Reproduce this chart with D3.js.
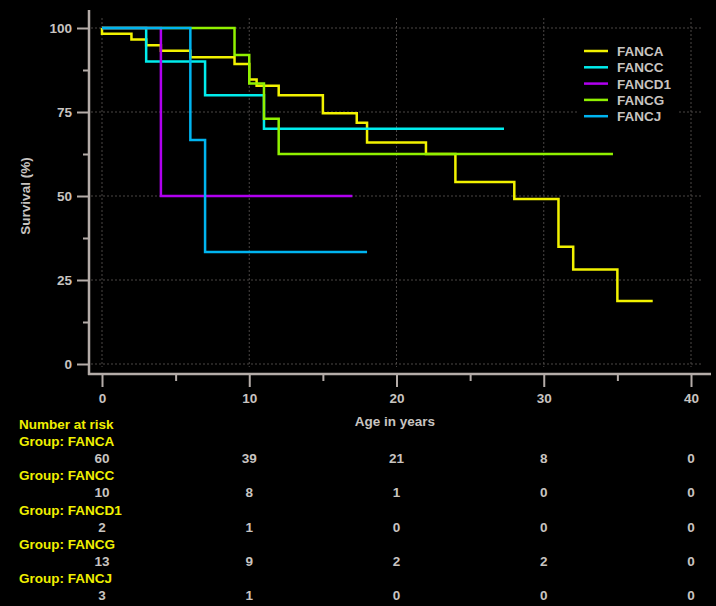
<!DOCTYPE html>
<html><head><meta charset="utf-8">
<script src="https://cdn.jsdelivr.net/npm/d3@7"></script>
<style>
html,body{margin:0;padding:0;background:#000;}
svg{display:block;}
text{font-family:"Liberation Sans",Arial,sans-serif;font-weight:bold;font-size:13.5px;}
</style></head>
<body>
<svg id="chart" width="716" height="606"></svg>
<script>
const groups = ["FANCA", "FANCC", "FANCD1", "FANCG", "FANCJ"];
const colors = ["#f2f200", "#00ecec", "#b000f0", "#90f000", "#00b4f0"];

const fancaTimes = [0, 0, 2, 3, 4, 6, 9, 10, 10.5, 12, 15, 17.3, 18, 22, 24, 28, 31, 32, 35, 37.4];
const fancaSurv  = [100, 98.3, 96.6, 94.9, 93.2, 91.3, 89.3, 84.7, 82.8, 80, 74.6, 71.8, 65.9, 62.5, 54.2, 49.1, 34.9, 28.1, 18.75, 18.75];
const fanccTimes = [0, 3, 7, 11, 27.3];
const fanccSurv  = [100, 90, 80, 70, 70];
const fancd1Times = [0, 4, 17];
const fancd1Surv  = [100, 50, 50];
const fancgTimes = [0, 9, 10, 11, 12, 34.7];
const fancgSurv  = [100, 92, 83.5, 73, 62.5, 62.5];
const fancjTimes = [0, 6, 7, 18];
const fancjSurv  = [100, 66.7, 33.3, 33.3];

const xTicks = [0, 10, 20, 30, 40];
const xMinor = [5, 15, 25, 35];
const yTicks = [0, 25, 50, 75, 100];
const yMinor = [12.5, 37.5, 62.5, 87.5];

const riskTimes = [0, 10, 20, 30, 40];
const riskFANCA  = [60, 39, 21, 8, 0];
const riskFANCC  = [10, 8, 1, 0, 0];
const riskFANCD1 = [2, 1, 0, 0, 0];
const riskFANCG  = [13, 9, 2, 2, 0];
const riskFANCJ  = [3, 1, 0, 0, 0];

const series = [
  {name: groups[0], t: fancaTimes, s: fancaSurv, risk: riskFANCA},
  {name: groups[1], t: fanccTimes, s: fanccSurv, risk: riskFANCC},
  {name: groups[2], t: fancd1Times, s: fancd1Surv, risk: riskFANCD1},
  {name: groups[3], t: fancgTimes, s: fancgSurv, risk: riskFANCG},
  {name: groups[4], t: fancjTimes, s: fancjSurv, risk: riskFANCJ}
];

const svg = d3.select("#chart");
const textCol = "#c8c4c0";
const axisCol = "#b4aca8";
const gridCol = "#4a4644";
const labelYellow = "#f0f000";

const x = d3.scaleLinear().domain([0, 40]).range([102, 691]);
const y = d3.scaleLinear().domain([0, 100]).range([364, 28]);

svg.append("rect").attr("width", 716).attr("height", 606).attr("fill", "#000");

// grid
const g = svg.append("g");
g.selectAll(".vg").data(xTicks).join("line")
  .attr("x1", d => x(d)).attr("x2", d => x(d))
  .attr("y1", 18).attr("y2", 367)
  .attr("stroke", gridCol).attr("stroke-width", 1).attr("stroke-dasharray", "2,2");
g.selectAll(".hg").data(yTicks).join("line")
  .attr("x1", 91).attr("x2", 702)
  .attr("y1", d => y(d)).attr("y2", d => y(d))
  .attr("stroke", gridCol).attr("stroke-width", 1).attr("stroke-dasharray", "2,2");

// axes
const axisG = svg.append("g");
axisG.append("line").attr("x1", 89).attr("x2", 89).attr("y1", 10).attr("y2", 375)
  .attr("stroke", axisCol).attr("stroke-width", 2.5);
axisG.append("line").attr("x1", 88).attr("x2", 711).attr("y1", 374).attr("y2", 374)
  .attr("stroke", axisCol).attr("stroke-width", 2.5);

const yAxis = d3.axisLeft(y).tickValues(yTicks).tickSize(12).tickPadding(5);
const ya = svg.append("g").attr("transform", "translate(89,0)").call(yAxis);
ya.select(".domain").remove();
ya.selectAll(".tick line").attr("stroke", axisCol).attr("stroke-width", 2);
ya.selectAll(".tick text").attr("fill", textCol).style("font-size", "13.5px").style("font-family", "'Liberation Sans',Arial,sans-serif").style("font-weight", "bold");

const yAxisMinor = d3.axisLeft(y).tickValues(yMinor).tickSize(6).tickFormat("");
const yam = svg.append("g").attr("transform", "translate(89,0)").call(yAxisMinor);
yam.select(".domain").remove();
yam.selectAll(".tick line").attr("stroke", axisCol).attr("stroke-width", 2);

const xAxis = d3.axisBottom(x).tickValues(xTicks).tickSize(13).tickPadding(6);
const xa = svg.append("g").attr("transform", "translate(0,374)").call(xAxis);
xa.select(".domain").remove();
xa.selectAll(".tick line").attr("stroke", axisCol).attr("stroke-width", 2);
xa.selectAll(".tick text").attr("fill", textCol).style("font-size", "13.5px").style("font-family", "'Liberation Sans',Arial,sans-serif").style("font-weight", "bold");

const xAxisMinor = d3.axisBottom(x).tickValues(xMinor).tickSize(7).tickFormat("");
const xam = svg.append("g").attr("transform", "translate(0,374)").call(xAxisMinor);
xam.select(".domain").remove();
xam.selectAll(".tick line").attr("stroke", axisCol).attr("stroke-width", 2);

// axis titles
svg.append("text").attr("x", 395).attr("y", 426).attr("text-anchor", "middle")
  .attr("fill", textCol).text("Age in years");
svg.append("text").attr("transform", "translate(30,196) rotate(-90)").attr("text-anchor", "middle")
  .attr("fill", textCol).text("Survival  (%)");

// curves
const line = d3.line().x(d => x(d[0])).y(d => y(d[1])).curve(d3.curveStepAfter);
series.forEach((s, i) => {
  const pts = s.t.map((t, k) => [t, s.s[k]]);
  svg.append("path").datum(pts).attr("d", line)
    .attr("fill", "none").attr("stroke", colors[i]).attr("stroke-width", 2.5)
    .attr("stroke-linejoin", "miter");
});

// legend
const leg = svg.append("g");
leg.append("rect").attr("x", 578).attr("y", 40).attr("width", 100).attr("height", 86).attr("fill", "#000");
groups.forEach((name, i) => {
  const yy = 51 + i * 16.3;
  leg.append("line").attr("x1", 584).attr("x2", 608).attr("y1", yy).attr("y2", yy)
    .attr("stroke", colors[i]).attr("stroke-width", 2.5);
  leg.append("text").attr("x", 617).attr("y", yy + 5).attr("fill", textCol).text(name);
});

// number at risk table
svg.append("text").attr("x", 19).attr("y", 429).attr("fill", labelYellow).text("Number at risk");
series.forEach((s, i) => {
  const base = 446 + i * 34.3;
  svg.append("text").attr("x", 19).attr("y", base).attr("fill", labelYellow).text("Group: " + s.name);
  svg.append("g").selectAll("text").data(s.risk).join("text")
    .attr("x", (d, k) => x(riskTimes[k])).attr("y", base + 17)
    .attr("text-anchor", "middle").attr("fill", textCol).text(d => d);
});
</script>
</body></html>
